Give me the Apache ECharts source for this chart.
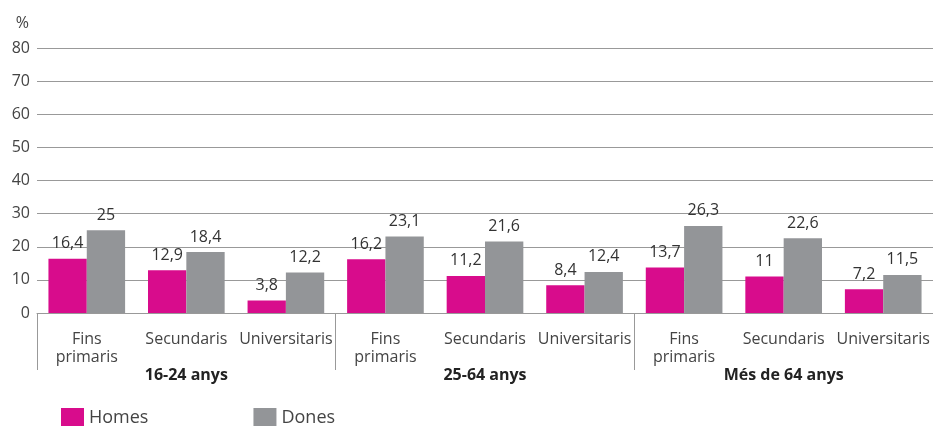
<!DOCTYPE html>
<html>
<head>
<meta charset="utf-8">
<script src="https://cdn.jsdelivr.net/npm/echarts@6/dist/echarts.min.js"></script>
<style>
  html, body { margin: 0; padding: 0; background: #fff; }
  #chart { width: 933px; height: 426px; }
</style>
</head>
<body>
<div id="chart"></div>
<script>
const categories = [
    "Fins\nprimaris", "Secundaris", "Universitaris",
    "Fins\nprimaris", "Secundaris", "Universitaris",
    "Fins\nprimaris", "Secundaris", "Universitaris",
];
const groups = ["16-24 anys", "25-64 anys", "Més de 64 anys"];
const homes = [16.4, 12.9, 3.8, 16.2, 11.2, 8.4, 13.7, 11, 7.2];
const dones = [25, 18.4, 12.2, 23.1, 21.6, 12.4, 26.3, 22.6, 11.5];
const yTicks = { min: 0, max: 80, interval: 10 };

const font = "Open Sans";
const textColor = "#444";
const fmt = (p) => String(p.value).replace(".", ",");

const chart = echarts.init(document.getElementById("chart"));

const barLabel = {
    show: true,
    position: "top",
    distance: 7,
    fontFamily: font,
    fontSize: 16,
    color: "#333",
    formatter: fmt,
};

const option = {
    animation: false,
    textStyle: { fontFamily: font },
    grid: { left: 37, width: 900, top: 48, bottom: 113 },
    legend: {
        left: 56,
        top: 403,
        itemWidth: 23,
        itemHeight: 20,
        itemGap: 105,
        icon: "rect",
        textStyle: { fontFamily: font, fontSize: 18, color: textColor },
        data: ["Homes", "Dones"],
    },
    xAxis: [
        {
            type: "category",
            data: categories,
            axisLine: { lineStyle: { color: "#999", width: 1 } },
            axisTick: { length: 9, lineStyle: { color: "#999" } },
            axisLabel: {
                margin: 17,
                fontFamily: font,
                fontSize: 16,
                lineHeight: 18,
                color: textColor,
                interval: 0,
            },
        },
        {
            type: "category",
            data: groups,
            position: "bottom",
            axisLine: { show: false },
            axisTick: { show: true, length: 57, lineStyle: { color: "#999" } },
            axisLabel: {
                margin: 54,
                fontFamily: font,
                fontSize: 16,
                fontWeight: "bold",
                color: "#222",
                interval: 0,
            },
        },
    ],
    yAxis: {
        type: "value",
        min: yTicks.min,
        max: yTicks.max,
        interval: yTicks.interval,
        name: "%",
        nameLocation: "end",
        nameGap: 17,
        nameTextStyle: {
            fontFamily: font,
            fontSize: 16,
            color: textColor,
            align: "right",
            padding: [0, 8, 0, 0],
        },
        axisLine: { show: false },
        axisTick: { show: false },
        axisLabel: { margin: 7, fontFamily: font, fontSize: 16, color: textColor },
        splitLine: { lineStyle: { color: "#999", width: 1 } },
    },
    series: [
        {
            name: "Homes",
            type: "bar",
            data: homes,
            barGap: "0%",
            barCategoryGap: "23%",
            itemStyle: { color: "#d80c8c" },
            label: barLabel,
        },
        {
            name: "Dones",
            type: "bar",
            data: dones,
            itemStyle: { color: "#939598" },
            label: barLabel,
        },
    ],
};

chart.setOption(option);
</script>
</body>
</html>
